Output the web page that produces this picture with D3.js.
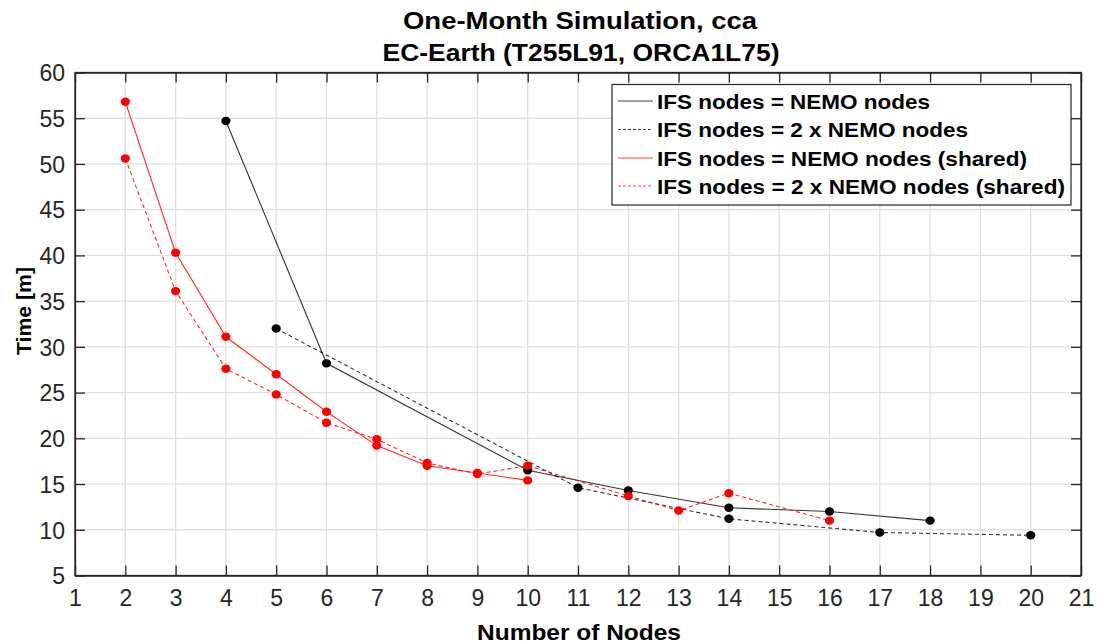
<!DOCTYPE html>
<html>
<head>
<meta charset="utf-8">
<script src="https://cdn.jsdelivr.net/npm/d3@7"></script>
<style>
  html, body { margin: 0; padding: 0; background: #fff; }
  svg { display: block; }
  text { font-family: "Liberation Sans", Arial, Helvetica, sans-serif; }
</style>
</head>
<body>
<svg id="chart" width="1099" height="644"></svg>
<script>
// ---- Data ----
const titleLines = ["One-Month Simulation, cca", "EC-Earth (T255L91, ORCA1L75)"];
const xLabel = "Number of Nodes";
const yLabel = "Time [m]";
const xTicks = d3.range(1, 22);           // 1..21
const yTicks = d3.range(5, 61, 5);        // 5..60

const seriesNames = [
  "IFS nodes = NEMO nodes",
  "IFS nodes = 2 x NEMO nodes",
  "IFS nodes = NEMO nodes (shared)",
  "IFS nodes = 2 x NEMO nodes (shared)"
];

const nodesA = [4, 6, 10, 12, 14, 16, 18];
const timeA  = [54.7, 28.2, 16.5, 14.3, 12.4, 12.0, 11.0];

const nodesB = [5, 11, 14, 17, 20];
const timeB  = [32.0, 14.6, 11.2, 9.7, 9.4];

const nodesC = [2, 3, 4, 5, 6, 7, 8, 9, 10];
const timeC  = [56.8, 40.3, 31.1, 27.0, 22.9, 19.2, 17.0, 16.2, 15.4];

const nodesD = [2, 3, 4, 5, 6, 7, 8, 9, 10, 12, 13, 14, 16];
const timeD  = [50.6, 36.1, 27.6, 24.8, 21.7, 19.9, 17.3, 16.1, 17.0, 13.7, 12.1, 14.0, 11.0];

// ---- Layout ----
const L = 75, R = 1081, T = 72.5, B = 575.5;
const svg = d3.select("#chart");
const x = d3.scaleLinear().domain([1, 21]).range([L, R]);
const y = d3.scaleLinear().domain([5, 60]).range([B, T]);
const axisColor = "#262626";

// grid
const grid = svg.append("g");
grid.selectAll("line.gx").data(xTicks.slice(1, -1)).enter().append("line")
  .attr("x1", d => x(d)).attr("x2", d => x(d)).attr("y1", T).attr("y2", B)
  .attr("stroke", "#dfdfdf").attr("stroke-width", 1.3);
grid.selectAll("line.gy").data(yTicks.slice(1, -1)).enter().append("line")
  .attr("y1", d => y(d)).attr("y2", d => y(d)).attr("x1", L).attr("x2", R)
  .attr("stroke", "#dfdfdf").attr("stroke-width", 1.3);

// axes (ticks inward)
const tickLen = 10;
const gx = svg.append("g").attr("transform", `translate(0,${B})`)
  .call(d3.axisBottom(x).tickValues(xTicks).tickSizeInner(-tickLen).tickSizeOuter(0).tickPadding(14).tickFormat(d3.format("d")));
const gxTop = svg.append("g").attr("transform", `translate(0,${T})`)
  .call(d3.axisTop(x).tickValues(xTicks).tickSizeInner(-tickLen).tickSizeOuter(0).tickFormat(""));
const gy = svg.append("g").attr("transform", `translate(${L},0)`)
  .call(d3.axisLeft(y).tickValues(yTicks).tickSizeInner(-tickLen).tickSizeOuter(0).tickPadding(10).tickFormat(d3.format("d")));
const gyR = svg.append("g").attr("transform", `translate(${R},0)`)
  .call(d3.axisRight(y).tickValues(yTicks).tickSizeInner(-tickLen).tickSizeOuter(0).tickFormat(""));

[gx, gxTop, gy, gyR].forEach(g => {
  g.select(".domain").attr("stroke", axisColor).attr("stroke-width", 1.3);
  g.selectAll(".tick line").attr("stroke", axisColor).attr("stroke-width", 1.3);
  g.selectAll(".tick text").attr("fill", "#262626").attr("font-size", 23)
    .attr("font-family", "'Liberation Sans', Arial, sans-serif");
});
gx.selectAll(".tick text").attr("dy", "0.71em");
gy.selectAll(".tick text").attr("dy", "0.36em");
// frame
svg.append("rect").attr("x", L).attr("y", T).attr("width", R - L).attr("height", B - T)
  .attr("fill", "none").attr("stroke", axisColor).attr("stroke-width", 1.3);

// ---- Series ----
const series = [
  { name: seriesNames[0], xs: nodesA, ys: timeA, color: "#000000", dash: null },
  { name: seriesNames[1], xs: nodesB, ys: timeB, color: "#000000", dash: "4,3" },
  { name: seriesNames[2], xs: nodesC, ys: timeC, color: "#ff0000", dash: null },
  { name: seriesNames[3], xs: nodesD, ys: timeD, color: "#ff0000", dash: "4,3" }
];
const line = d3.line().x(d => x(d[0])).y(d => y(d[1]));
const plot = svg.append("g");
series.forEach(s => {
  const pts = s.xs.map((v, i) => [v, s.ys[i]]);
  plot.append("path").datum(pts).attr("d", line)
    .attr("fill", "none").attr("stroke", s.color).attr("stroke-width", 1.1)
    .attr("stroke-opacity", s.color === "#000000" ? 0.8 : 0.85)
    .attr("stroke-dasharray", s.dash);
});
series.forEach(s => {
  const pts = s.xs.map((v, i) => [v, s.ys[i]]);
  plot.selectAll(null).data(pts).enter().append("ellipse")
    .attr("cx", d => x(d[0])).attr("cy", d => y(d[1]))
    .attr("rx", 4.6).attr("ry", 4.2).attr("fill", s.color);
});

// ---- Titles ----
function stretchedText(g, str, cx, cy, size, weight, targetW, anchor) {
  const t = g.append("text").text(str).attr("font-size", size).attr("font-weight", weight)
    .attr("fill", "#000").attr("text-anchor", anchor || "middle")
    .attr("x", cx).attr("y", cy);
  if (targetW) t.attr("textLength", targetW).attr("lengthAdjust", "spacingAndGlyphs");
  return t;
}
stretchedText(svg, titleLines[0], 580, 29, 24, "bold", 354);
stretchedText(svg, titleLines[1], 581, 61, 24, "bold", 397);
stretchedText(svg, xLabel, 579, 640, 22, "bold", 204);
svg.append("text").text(yLabel)
  .attr("transform", "translate(31,311) rotate(-90)")
  .attr("text-anchor", "middle").attr("font-size", 21).attr("font-weight", "bold")
  .attr("textLength", 88).attr("lengthAdjust", "spacingAndGlyphs");

// ---- Legend ----
const legX = 612, legY = 84.5, legW = 459, legH = 120.5;
const leg = svg.append("g");
leg.append("rect").attr("x", legX).attr("y", legY).attr("width", legW).attr("height", legH)
  .attr("fill", "#fff").attr("stroke", axisColor).attr("stroke-width", 1.2);
const rowY = [101, 129.5, 158, 186];
const textW = [273, 311, 370, 408];
series.forEach((s, i) => {
  leg.append("line").attr("x1", 618).attr("x2", 653).attr("y1", rowY[i]).attr("y2", rowY[i])
    .attr("stroke", s.color).attr("stroke-width", 1.1).attr("stroke-opacity", 0.75)
    .attr("stroke-dasharray", s.dash ? "3,2" : null);
  stretchedText(leg, s.name, 657, rowY[i] + 7.5, 20, "bold", textW[i], "start");
});
</script>
</body>
</html>
